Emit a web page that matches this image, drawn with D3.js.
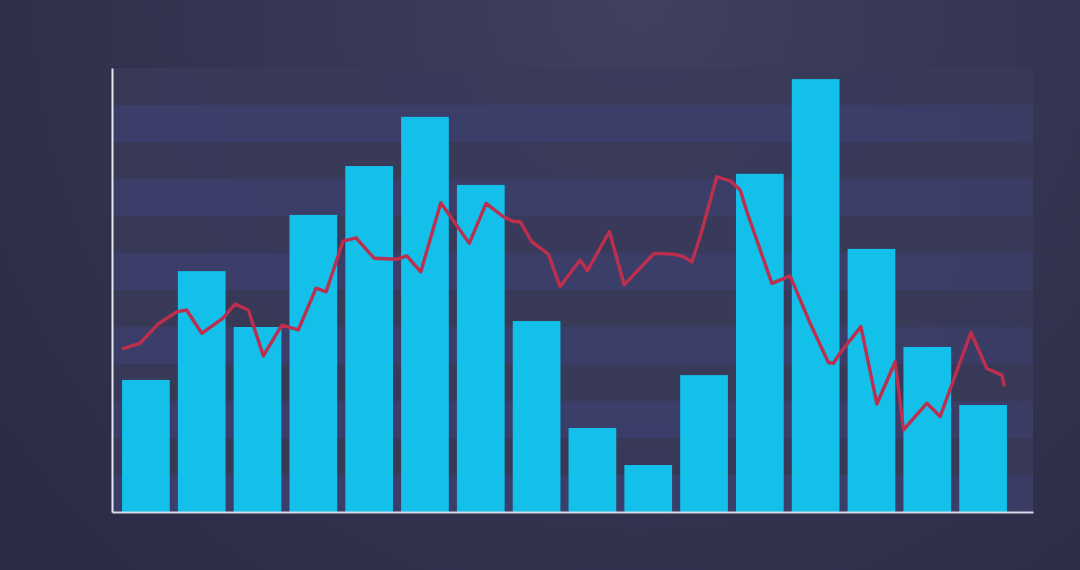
<!DOCTYPE html>
<html>
<head>
<meta charset="utf-8">
<script src="https://cdn.jsdelivr.net/npm/d3@7/dist/d3.min.js"></script>
<style>
  html, body { margin: 0; padding: 0; background: #30304a; }
  svg { display: block; }
</style>
</head>
<body>
<svg id="chart" width="1080" height="570"></svg>
<script>
// ---- data ----
const categories = d3.range(1, 17).map(String);
const barValues = [35.7, 65.1, 50.0, 80.3, 93.5, 106.8, 88.4, 51.6, 22.7, 12.7, 37.0, 91.4, 117.0, 71.1, 44.6, 28.9];
// line series: position along category axis (in category units) and value
const lineX = [0.095, 0.394, 0.717, 1.052, 1.229, 1.5, 1.882, 2.097, 2.335, 2.604, 2.934, 3.231, 3.548, 3.728,
  4.032, 4.265, 4.588, 4.995, 5.174, 5.425, 5.783, 6.294, 6.595, 6.905, 7.084, 7.204, 7.412, 7.711, 7.919,
  8.28, 8.41, 8.805, 9.068, 9.606, 9.952, 10.131, 10.281, 10.43, 10.729, 10.968, 11.147, 11.267, 11.715,
  12.043, 12.401, 12.729, 12.819, 12.939, 13.31, 13.597, 13.925, 14.073, 14.493, 14.731, 15.281, 15.568,
  15.837, 15.878];
const lineY = [44.2, 45.6, 50.8, 54.1, 54.6, 48.3, 52.4, 56.2, 54.6, 42.2, 50.5, 49.2, 60.5, 59.5,
  73.2, 74.1, 68.6, 68.3, 69.2, 64.9, 83.6, 72.6, 83.4, 79.8, 78.5, 78.5, 73.1, 69.7, 60.9,
  68.1, 65.2, 75.8, 61.4, 69.9, 69.7, 69.0, 67.6, 74.4, 90.6, 89.5, 87.0, 81.2, 61.8,
  63.8, 51.0, 40.4, 40.2, 43.0, 50.1, 29.2, 40.6, 22.2, 29.4, 25.8, 48.5, 38.8,
  37.0, 34.3];
const bandTicks = d3.range(0, 120, 10);

// ---- layout ----
const W = 1080, H = 570;
const plot = { left: 112, right: 1033, top: 68, bottom: 512 };
const svg = d3.select("#chart");

const defs = svg.append("defs");
const bg = defs.append("radialGradient").attr("id", "bg")
  .attr("gradientUnits", "userSpaceOnUse")
  .attr("cx", 640).attr("cy", 0).attr("r", 760);
bg.append("stop").attr("offset", "0%").attr("stop-color", "#40405f");
bg.append("stop").attr("offset", "55%").attr("stop-color", "#353551");
bg.append("stop").attr("offset", "100%").attr("stop-color", "#2c2c47");

const bandGrad = defs.append("linearGradient").attr("id", "band")
  .attr("x1", "0%").attr("x2", "100%").attr("y1", "0%").attr("y2", "0%");
bandGrad.append("stop").attr("offset", "0%").attr("stop-color", "#3b3e6a").attr("stop-opacity", 0.95);
bandGrad.append("stop").attr("offset", "80%").attr("stop-color", "#3b3e6a").attr("stop-opacity", 0.95);
bandGrad.append("stop").attr("offset", "100%").attr("stop-color", "#3b3e6a").attr("stop-opacity", 0.7);

svg.append("rect").attr("width", W).attr("height", H).attr("fill", "url(#bg)");

const x = d3.scaleBand().domain(categories).range([118, 1011]).paddingInner(0.145).paddingOuter(0.0725);
const xl = d3.scaleLinear().domain([0, 16]).range([118, 1011]);
const y = d3.scaleLinear().domain([0, 120]).range([plot.bottom, plot.top]);

// plot background
svg.append("rect")
  .attr("x", plot.left).attr("y", plot.top)
  .attr("width", plot.right - plot.left).attr("height", plot.bottom - plot.top)
  .attr("fill", "#3a3a59").attr("opacity", 0.85);

// alternating bands
svg.append("g").selectAll("rect")
  .data(bandTicks.filter((d, i) => i % 2 === 0))
  .join("rect")
  .attr("x", plot.left)
  .attr("width", plot.right - plot.left)
  .attr("y", d => y(d + 10))
  .attr("height", d => y(d) - y(d + 10))
  .attr("fill", "url(#band)");

// bars
svg.append("g").selectAll("rect")
  .data(barValues)
  .join("rect")
  .attr("x", (d, i) => x(categories[i]))
  .attr("width", x.bandwidth())
  .attr("y", d => y(d))
  .attr("height", d => y(0) - y(d))
  .attr("fill", "#12c0ea");

// line
const pts = lineX.map((v, i) => [v, lineY[i]]);
svg.append("path")
  .datum(pts)
  .attr("fill", "none")
  .attr("stroke", "#bc2f4e")
  .attr("stroke-width", 3.4)
  .attr("stroke-linejoin", "round")
  .attr("stroke-linecap", "round")
  .attr("d", d3.line().x(d => xl(d[0])).y(d => y(d[1])));

// axes
const yAxis = d3.axisLeft(y).tickValues([]).tickSize(0).tickSizeOuter(0);
const gy = svg.append("g").attr("transform", `translate(${plot.left},0)`).call(yAxis);
gy.select(".domain").attr("stroke", "#e6e6f0").attr("stroke-width", 2);

const xAxis = d3.axisBottom(d3.scaleLinear().domain([0, 1]).range([plot.left, plot.right]))
  .tickValues([]).tickSize(0).tickSizeOuter(0);
const gx = svg.append("g").attr("transform", `translate(0,${plot.bottom})`).call(xAxis);
gx.select(".domain").attr("stroke", "#d8d8e6").attr("stroke-width", 2);
</script>
</body>
</html>
